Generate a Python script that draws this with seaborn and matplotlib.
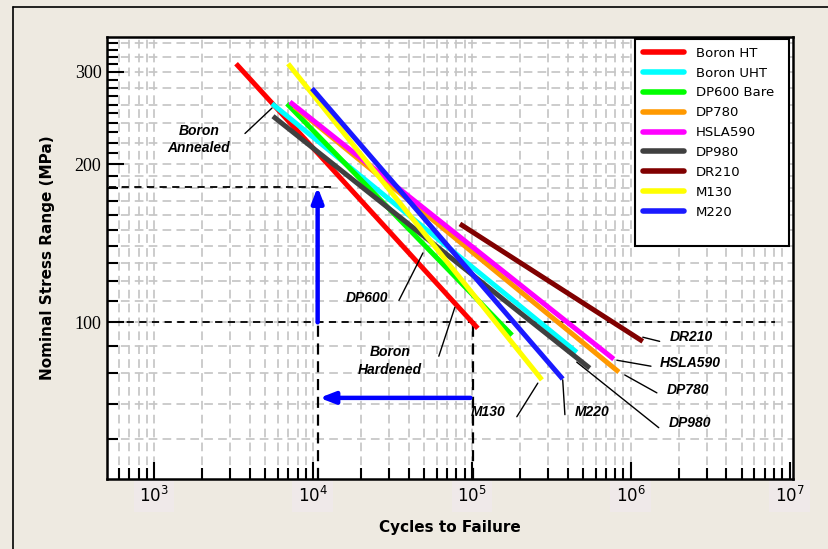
import numpy as np
import pandas as pd
import matplotlib
matplotlib.use("Agg")
import matplotlib.pyplot as plt
from matplotlib.lines import Line2D
from matplotlib.ticker import FixedLocator, NullFormatter, LogLocator
import seaborn as sns

# S-N curve end points (cycles, MPa)
materials = ["Boron HT", "Boron UHT", "DP600 Bare", "DP780", "HSLA590",
             "DP980", "DR210", "M130", "M220"]
colors = ["#FF0000", "#00FFFF", "#00FF00", "#FF9900", "#FF00FF",
          "#404040", "#800000", "#FFFF00", "#1A1AFF"]
cycles_start = [3280, 5520, 6860, 7600, 7160, 5600, 84100, 6970, 9860]
cycles_end = [1.09e5, 4.57e5, 1.79e5, 8.42e5, 7.82e5, 5.52e5, 1.19e6, 2.76e5, 3.73e5]
stress_start = [311, 261, 261, 258, 263, 247, 154, 311, 279]
stress_end = [97.4, 87.7, 94.5, 80.4, 85.1, 81.8, 92.0, 77.7, 78.0]

# callout labels: text position, leader start, leader end
labels = ["Boron\nAnnealed", "DP600", "Boron\nHardened", "M130", "M220",
          "DP980", "DP780", "HSLA590", "DR210"]
label_x = [1919, 21880, 30470, 1.262e5, 5.69e5, 2.35e6, 2.28e6, 2.38e6, 2.42e6]
label_y = [223, 111.5, 84.4, 67.5, 67.5, 64.3, 74.3, 83.6, 93.7]
leader_x0 = [3733, 34750, 61950, 1.918e5, 3.85e5, 1.50e6, 1.46e6, 1.34e6, 1.52e6]
leader_y0 = [229, 110.1, 86.2, 66.1, 66.7, 63.0, 73.4, 82.5, 92.0]
leader_x1 = [5521, 49200, 78150, 2.60e5, 3.73e5, 4.57e5, 9.16e5, 8.17e5, 1.19e6]
leader_y1 = [256, 135.6, 106.8, 76.6, 77.7, 84.0, 79.4, 84.7, 93.7]

# example read-off (design stress -> life)
design_stress = 100
target_stress = 181
life_low = 1.07e4
life_high = 1.01e5
arrow_stress = 71.8

y_major = [100, 200, 300]
y_minor = list(range(50, 350, 10))
y_grid = list(range(60, 200, 10)) + list(range(200, 350, 20))

rows = []
for i, m in enumerate(materials):
    rows.append({"material": m, "cycles": cycles_start[i], "stress": stress_start[i]})
    rows.append({"material": m, "cycles": cycles_end[i], "stress": stress_end[i]})
df = pd.DataFrame(rows)

bg = "#EEEAE1"
sns.set_style("white")
plt.rcParams["font.family"] = ["DejaVu Sans"]
plt.rcParams["text.color"] = "black"
plt.rcParams["axes.labelcolor"] = "black"
plt.rcParams["xtick.color"] = "black"
plt.rcParams["ytick.color"] = "black"

fig = plt.figure(figsize=(8.29, 5.49), dpi=100, facecolor=bg)
ax = fig.add_axes([0.129, 0.1275, 0.8276, 0.8055])
ax.set_facecolor("white")

ax.set_xscale("log")
ax.set_yscale("log")
ax.set_xlim(505, 1.05e7)
ax.set_ylim(50.3, 350)

# grid
grid_kw = dict(color="#C6C6C6", lw=1.25, ls=(0, (5, 3)), zorder=0)
for gy in y_grid:
    ax.axhline(gy, **grid_kw)
for dec in range(2, 7):
    for k in range(1, 10):
        gx = k * 10 ** dec
        if 505 < gx < 1.05e7:
            ax.axvline(gx, **grid_kw)

# reference dashed lines
ref_kw = dict(color="black", lw=1.3, ls=(0, (4, 3)), zorder=2)
ax.plot([520, 1.37e4], [target_stress, target_stress], **ref_kw)
ax.plot([560, 8.05e6], [design_stress, design_stress], **ref_kw)
ax.plot([life_low, life_low], [50.3, design_stress], color="black", lw=1.6,
        ls=(0, (5, 3)), zorder=2)
ax.plot([life_high, life_high], [50.3, design_stress], color="black", lw=1.6,
        ls=(0, (5, 3)), zorder=2)

# S-N lines
sns.lineplot(data=df, x="cycles", y="stress", hue="material", hue_order=materials,
             palette=colors, units="material", estimator=None, sort=False,
             lw=3.6, legend=False, ax=ax, zorder=3)
for ln in ax.get_lines()[-len(materials):]:
    ln.set_solid_capstyle("butt")

# blue arrows
ax.annotate("", xy=(life_low, target_stress), xytext=(life_low, design_stress),
            arrowprops=dict(arrowstyle="-|>,head_length=0.9,head_width=0.35",
                            color="#0000FF", lw=3.2, shrinkA=0, shrinkB=0), zorder=4)
ax.annotate("", xy=(1.1e4, arrow_stress), xytext=(9.8e4, arrow_stress),
            arrowprops=dict(arrowstyle="-|>,head_length=0.9,head_width=0.35",
                            color="#0000FF", lw=3.2, shrinkA=0, shrinkB=0), zorder=4)

# callouts
for i, t in enumerate(labels):
    ax.plot([leader_x0[i], leader_x1[i]], [leader_y0[i], leader_y1[i]],
            color="black", lw=1.0, zorder=5)
    ax.text(label_x[i], label_y[i], t, ha="center", va="center", fontsize=10,
            fontweight="bold", fontstyle="italic", linespacing=1.3,
            family="Liberation Sans", color="black", zorder=5)

# ticks
ax.yaxis.set_major_locator(FixedLocator(y_major))
ax.yaxis.set_minor_locator(FixedLocator([v for v in y_minor if v not in y_major]))
ax.yaxis.set_minor_formatter(NullFormatter())
ax.set_yticklabels([str(v) for v in y_major], family="Liberation Serif", fontsize=13)
ax.xaxis.set_major_locator(LogLocator(base=10, numticks=10))
ax.xaxis.set_minor_locator(LogLocator(base=10, subs=np.arange(2, 10), numticks=20))
ax.xaxis.set_minor_formatter(NullFormatter())
ax.tick_params(axis="both", which="major", direction="in", length=12, width=1.5,
               color="black", labelcolor="black", left=True, bottom=True)
ax.tick_params(axis="both", which="minor", direction="in", length=8, width=1.5,
               color="black", left=True, bottom=True)
ax.tick_params(axis="x", which="major", labelsize=12, pad=5)
ax.tick_params(axis="y", which="major", pad=4)
for lab in ax.get_xticklabels():
    lab.set_bbox(dict(facecolor="#EFE9E9", edgecolor="none", pad=4))

for s in ax.spines.values():
    s.set_color("black")
    s.set_linewidth(1.8)

ax.set_xlabel("Cycles to Failure", fontsize=11, fontweight="bold", labelpad=10)
ax.set_ylabel("Nominal Stress Range (MPa)", fontsize=11, fontweight="bold", labelpad=14)

# legend
handles = [Line2D([], [], color=c, lw=4) for c in colors]
handles.append(Line2D([], [], color="none"))
leg = ax.legend(handles, materials + [" "], loc="upper left",
                bbox_to_anchor=(0.7697, 0.0, 0.2245, 0.9955), mode="expand",
                fontsize=9.5, handlelength=3.1, handletextpad=0.9, labelspacing=0.52,
                borderpad=0.6, borderaxespad=0.0, frameon=True, fancybox=False,
                framealpha=1, edgecolor="black", labelcolor="black")
leg.get_frame().set_linewidth(1.5)
leg.set_zorder(10)

# outer frame lines (top and left) of the original picture
fig.add_artist(Line2D([13 / 829, 1], [1 - 7 / 549, 1 - 7 / 549], color="black", lw=1.2,
                      transform=fig.transFigure))
fig.add_artist(Line2D([13 / 829, 13 / 829], [0, 1 - 7 / 549], color="black", lw=1.2,
                      transform=fig.transFigure))

fig.savefig("out.png", dpi=100, facecolor=bg)
